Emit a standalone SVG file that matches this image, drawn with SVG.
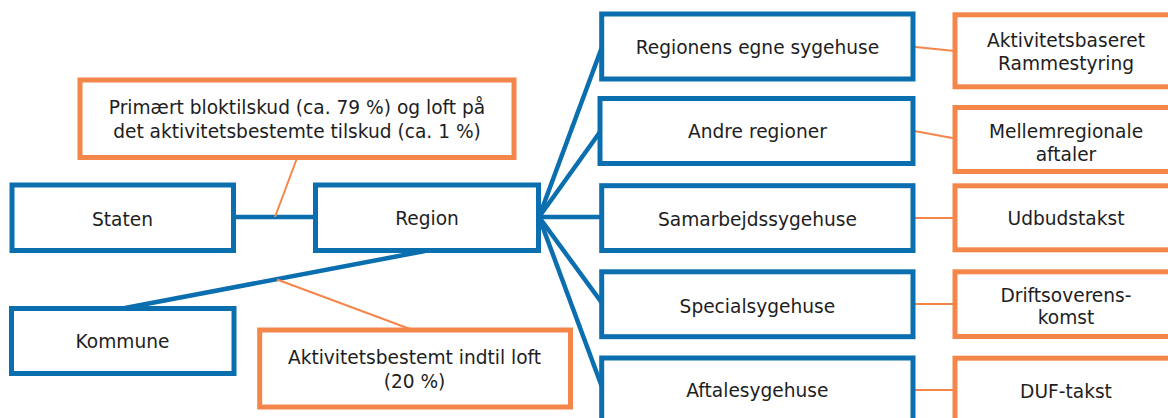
<svg xmlns="http://www.w3.org/2000/svg" width="1168" height="418" viewBox="0 0 1168 418">
<style>
.b{fill:#fff;stroke:#0B6EAF;stroke-width:5}
.o{fill:#fff;stroke:#F5864A;stroke-width:5}
.cb{stroke:#0B6EAF;stroke-width:4.5;fill:none}
.co{stroke:#F5864A;stroke-width:2;fill:none}
text{font-family:"DejaVu Sans","Liberation Sans",sans-serif;font-size:18.6px;fill:#1E1E1E;text-anchor:middle}
</style>
<g id="connectors">
<line class="cb" x1="234" y1="217" x2="315" y2="217"/>
<line class="co" x1="297" y1="158" x2="275" y2="217"/>
<line class="cb" x1="425" y1="251" x2="125" y2="308"/>
<line class="co" x1="277" y1="279.5" x2="410" y2="329"/>
<line class="cb" x1="539" y1="217" x2="602" y2="47"/>
<line class="cb" x1="539" y1="217" x2="600" y2="132"/>
<line class="cb" x1="539" y1="217" x2="602" y2="217"/>
<line class="cb" x1="539" y1="217" x2="602" y2="303"/>
<line class="cb" x1="539" y1="217" x2="602" y2="387"/>
<line class="co" x1="913" y1="46.7" x2="955" y2="51"/>
<line class="co" x1="913" y1="130.7" x2="955" y2="138.5"/>
<line class="co" x1="913" y1="218" x2="955" y2="218"/>
<line class="co" x1="913" y1="304" x2="955" y2="304"/>
<line class="co" x1="913" y1="390" x2="955" y2="390"/>
</g>
<g id="n-bloktilskud"><rect class="o" x="80" y="80" width="434" height="77.5"/><text x="297" y="114.3">Primært bloktilskud (ca. 79 %) og loft på</text><text x="297" y="137.7">det aktivitetsbestemte tilskud (ca. 1 %)</text></g>
<g id="n-staten"><rect class="b" x="12" y="185" width="221.5" height="65.5"/><text x="122.5" y="225.5">Staten</text></g>
<g id="n-region"><rect class="b" x="315.5" y="185" width="223" height="65.5"/><text x="427" y="225">Region</text></g>
<g id="n-kommune"><rect class="b" x="11.5" y="308.5" width="222.5" height="65"/><text x="122.5" y="348.3">Kommune</text></g>
<g id="n-aktivitetsbestemt"><rect class="o" x="259.7" y="330" width="310.8" height="77"/><text x="414.5" y="364">Aktivitetsbestemt indtil loft</text><text x="414.5" y="387.5">(20 %)</text></g>
<g id="n-regionens"><rect class="b" x="601.7" y="14" width="311.3" height="65"/><text x="757.4" y="54.3">Regionens egne sygehuse</text></g>
<g id="n-andre"><rect class="b" x="600" y="98.5" width="313" height="65"/><text x="757.4" y="138.3">Andre regioner</text></g>
<g id="n-samarbejds"><rect class="b" x="601.7" y="185.7" width="311.3" height="64.8"/><text x="757.4" y="225.7">Samarbejdssygehuse</text></g>
<g id="n-special"><rect class="b" x="601.7" y="271.8" width="311.3" height="64.9"/><text x="757.4" y="312.7">Specialsygehuse</text></g>
<g id="n-aftale"><rect class="b" x="601.7" y="358" width="311.3" height="65"/><text x="757.4" y="397.3">Aftalesygehuse</text></g>
<g id="n-abr"><rect class="o" x="955" y="14.8" width="222" height="72"/><text x="1066" y="46.7">Aktivitetsbaseret</text><text x="1066" y="70">Rammestyring</text></g>
<g id="n-mellem"><rect class="o" x="955" y="107.5" width="222" height="64"/><text x="1066" y="138.3">Mellemregionale</text><text x="1066" y="160.7">aftaler</text></g>
<g id="n-udbud"><rect class="o" x="955" y="185.8" width="222" height="64"/><text x="1066" y="225">Udbudstakst</text></g>
<g id="n-drift"><rect class="o" x="955" y="271.8" width="222" height="64.7"/><text x="1066" y="301.7">Driftsoverens-</text><text x="1066" y="324.3">komst</text></g>
<g id="n-duf"><rect class="o" x="955" y="358.2" width="222" height="65"/><text x="1066" y="398.3">DUF-takst</text></g>
</svg>
